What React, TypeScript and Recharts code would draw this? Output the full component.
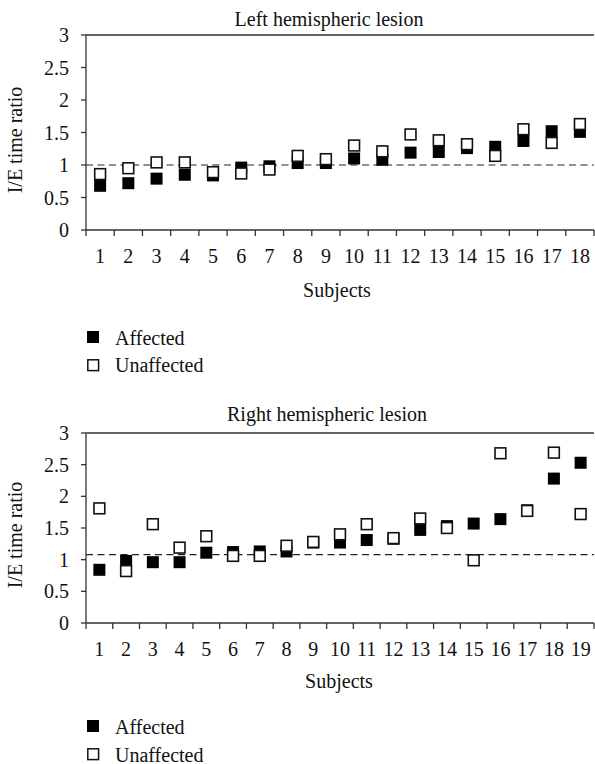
import { ReferenceLine, Scatter, ScatterChart, XAxis, YAxis } from "recharts"

const leftSubjects = [1, 2, 3, 4, 5, 6, 7, 8, 9, 10, 11, 12, 13, 14, 15, 16, 17, 18]
const leftAffected = [0.68, 0.72, 0.79, 0.85, 0.84, 0.96, 0.98, 1.03, 1.03, 1.1, 1.08, 1.19, 1.2, 1.26, 1.28, 1.37, 1.52, 1.51]
const leftUnaffected = [0.86, 0.95, 1.04, 1.04, 0.89, 0.87, 0.93, 1.14, 1.09, 1.3, 1.21, 1.47, 1.38, 1.32, 1.14, 1.55, 1.34, 1.63]
const leftBaseline = 1.0

const rightSubjects = [1, 2, 3, 4, 5, 6, 7, 8, 9, 10, 11, 12, 13, 14, 15, 16, 17, 18, 19]
const rightAffected = [0.84, 0.98, 0.96, 0.96, 1.11, 1.12, 1.13, 1.13, 1.27, 1.27, 1.31, 1.33, 1.47, 1.53, 1.57, 1.64, 1.78, 2.28, 2.53]
const rightUnaffected = [1.81, 0.82, 1.56, 1.19, 1.37, 1.06, 1.06, 1.22, 1.28, 1.4, 1.56, 1.34, 1.65, 1.5, 0.99, 2.68, 1.77, 2.69, 1.72]
const rightBaseline = 1.08

const yTicks = [0, 0.5, 1, 1.5, 2, 2.5, 3]

const FONT = "'Liberation Serif', 'Times New Roman', serif"
const AXIS = "#333"
const PLOT_LEFT = 86
const PLOT_RIGHT = 594

const FilledSquare = (props: any) => (
    <rect x={props.cx - 6} y={props.cy - 6} width={12} height={12} fill="#000" />
)
const OpenSquare = (props: any) => (
    <rect x={props.cx - 5.4} y={props.cy - 5.4} width={10.8} height={10.8} fill="#fff" stroke="#111" strokeWidth={1.6} />
)

type PanelProps = {
    top: number,
    plotHeight: number,
    subjects: number[],
    affected: number[],
    unaffected: number[],
    baseline: number,
}

const Panel = ({ top, plotHeight, subjects, affected, unaffected, baseline }: PanelProps) => {
    const n = subjects.length
    const half = (PLOT_RIGHT - PLOT_LEFT) / n / 2
    const affPts = subjects.map((s, i) => ({ x: s, y: affected[i] }))
    const unaffPts = subjects.map((s, i) => ({ x: s, y: unaffected[i] }))
    const marginTop = 35
    const xAxisH = 70

    const XTick = (p: any) => {
        const last = p.payload.value === subjects[n - 1]
        return (
            <g>
                <line x1={p.x - half} x2={p.x - half} y1={p.y} y2={p.y + 6} stroke={AXIS} strokeWidth={1.3} />
                {last && <line x1={p.x + half} x2={p.x + half} y1={p.y} y2={p.y + 6} stroke={AXIS} strokeWidth={1.3} />}
                <text x={p.x} y={p.y + 26} dy="0.35em" textAnchor="middle" fontFamily={FONT} fontSize={20} fill="#111">
                    {p.payload.value}
                </text>
            </g>
        )
    }

    return (
        <div style={{ position: "absolute", left: 0, top }}>
            <ScatterChart width={595} height={marginTop + plotHeight + xAxisH} margin={{ top: marginTop, right: 595 - PLOT_RIGHT, bottom: 0, left: 0 }}>
                <XAxis
                    type="number"
                    dataKey="x"
                    domain={[0.5, n + 0.5]}
                    ticks={subjects}
                    interval={0}
                    height={xAxisH}
                    tickLine={false}
                    tickSize={0}
                    tickMargin={0}
                    axisLine={{ stroke: AXIS, strokeWidth: 1.3 }}
                    tick={<XTick />}
                />
                <YAxis
                    type="number"
                    dataKey="y"
                    domain={[0, 3]}
                    ticks={yTicks}
                    interval={0}
                    width={PLOT_LEFT}
                    tickSize={5}
                    tickMargin={12}
                    axisLine={{ stroke: AXIS, strokeWidth: 1.3 }}
                    tickLine={{ stroke: AXIS, strokeWidth: 1.3 }}
                    tick={{ fontFamily: FONT, fontSize: 20, fill: "#111" }}
                />
                <ReferenceLine y={3} stroke={AXIS} strokeWidth={1.3} />
                <ReferenceLine y={baseline} stroke="#222" strokeWidth={1.1} strokeDasharray="7 4.5" />
                <Scatter data={affPts} shape={FilledSquare} isAnimationActive={false} />
                <Scatter data={unaffPts} shape={OpenSquare} isAnimationActive={false} />
            </ScatterChart>
        </div>
    )
}

const Texts = () => (
    <svg width={595} height={764} style={{ position: "absolute", left: 0, top: 0, pointerEvents: "none" }}>
        <g fontFamily={FONT} fontSize={20} fill="#111">
            <text x={329} y={26} textAnchor="middle">Left hemispheric lesion</text>
            <text transform="translate(21.5, 140) rotate(-90)" textAnchor="middle">I/E time ratio</text>
            <text x={337} y={297} textAnchor="middle">Subjects</text>
            <rect x={87} y={331} width={12} height={12} fill="#000" />
            <text x={115} y={345}>Affected</text>
            <rect x={87.8} y={359.8} width={10.8} height={10.8} fill="#fff" stroke="#111" strokeWidth={1.5} />
            <text x={115} y={371.5}>Unaffected</text>

            <text x={327} y={421} textAnchor="middle">Right hemispheric lesion</text>
            <text transform="translate(21.5, 535) rotate(-90)" textAnchor="middle">I/E time ratio</text>
            <text x={339} y={687.5} textAnchor="middle">Subjects</text>
            <rect x={87} y={720} width={12} height={12} fill="#000" />
            <text x={115} y={734}>Affected</text>
            <rect x={87.8} y={748.8} width={10.8} height={10.8} fill="#fff" stroke="#111" strokeWidth={1.5} />
            <text x={115} y={761.5}>Unaffected</text>
        </g>
    </svg>
)

const App = () => (
    <div style={{ position: "absolute", left: 0, top: 0, width: 595, height: 764, background: "#fff" }}>
        <Panel top={0} plotHeight={195} subjects={leftSubjects} affected={leftAffected} unaffected={leftUnaffected} baseline={leftBaseline} />
        <Panel top={398} plotHeight={190} subjects={rightSubjects} affected={rightAffected} unaffected={rightUnaffected} baseline={rightBaseline} />
        <Texts />
    </div>
)

export default App
